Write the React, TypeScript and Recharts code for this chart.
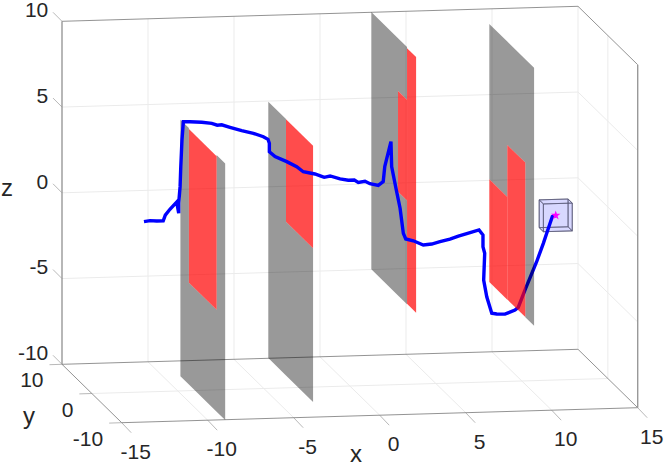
import { ComposedChart, XAxis, YAxis, ZAxis, Line, Area, Scatter } from 'recharts';

type P3 = [number, number, number];

const xTicks = [-15, -10, -5, 0, 5, 10, 15];
const yTicks = [-10, 0, 10];
const zTicks = [-10, -5, 0, 5, 10];

// gate planes
const gateX = [-8.55, -3.44, 2.55, 9.41];

// gray part of each gate: [gate, y stops, z low, z high]
const grayStrips: [number, number[], number[], number[]][] = [
    [0, [7.5, 4.65, 4.65, -4.63, -4.63, -7.5], [-10.46, -10.46, -10.46, -10.46, -10.46, -10.46], [4.5, 4.5, -4.52, -4.52, 4.5, 4.5]],
    [1, [7.5, 1.57, 1.57, -7.5], [-9.55, -9.55, -9.55, -9.55], [5.4, 5.4, -0.59, -0.59]],
    [2, [7.5, -1.44, -1.44, -4.46], [-4.55, -4.55, 7.37, 7.37], [10.45, 10.45, 10.45, 10.45]],
    [2, [-1.44, -4.46], [-4.55, -4.55], [1.5, 1.5]],
    [3, [7.5, 1.47, 1.47, -4.56, -4.56, -7.5], [0.5, 0.5, 3.53, 3.53, -5.49, -5.49], [9.56, 9.56, 9.56, 9.56, 9.56, 9.56]],
];

// red openings
const windowGate = [0, 1, 2, 2, 3, 3];
const windowYHigh = [4.65, 1.57, -1.44, -4.46, 7.5, 1.47];
const windowYLow = [-4.63, -7.5, -4.46, -7.5, 1.47, -4.56];
const windowZLow = [-4.52, -0.59, 1.5, -4.52, -5.49, -5.48];
const windowZHigh = [4.44, 5.38, 7.37, 10.38, 0.5, 3.53];

// flown path (y taken as 0)
const pathX = [
    -11.97, -11.62, -11.23, -10.85, -10.73, -10.46, -10.07, -9.95, -9.95, -9.87, -9.83, -9.76, -9.68, -9.29, -8.61,
    -8.03, -7.71, -7.45, -6.97, -6.29, -5.61, -5.03, -4.76, -4.68, -4.68, -4.35, -3.67, -3.09, -2.71, -2.03, -1.68,
    -1.49, -1.15, -0.57, -0.09, 0.26, 0.49, 0.88, 1.17, 1.65, 1.94, 2.03, 2.39, 2.43, 2.68, 2.92, 3.11, 3.25, 3.69,
    4.27, 4.76, 5.24, 5.82, 6.31, 6.99, 7.51, 7.74, 7.74, 7.84, 7.78, 7.96, 8.25, 8.54, 9.02, 9.6, 9.79, 10.18, 10.86,
    11.25, 11.64, 11.77, 11.97,
];
const pathZ = [
    -0.07, -0.02, -0.05, -0.05, 0.28, 0.61, 1.02, 0.36, 0.96, 1.91, 3.07, 4.63, 5.69, 5.68, 5.63, 5.55, 5.43, 5.45,
    5.29, 5.07, 4.9, 4.68, 4.52, 4.29, 3.8, 3.5, 3.19, 2.88, 2.57, 2.42, 2.29, 2.21, 2.28, 2.09, 2.0, 2.0, 1.86, 1.91,
    1.76, 1.65, 1.86, 2.73, 4.18, 2.72, 1.45, 0.28, -1.19, -1.52, -1.64, -1.9, -1.86, -1.74, -1.6, -1.44, -1.26, -1.12,
    -1.42, -2.11, -2.49, -4.05, -5.03, -6.0, -6.05, -6.07, -5.85, -5.7, -4.7, -3.07, -2.01, -0.85, -0.47, -0.42,
];

// goal box
const goal: P3 = [11.97, 0, -0.4];
const goalHalf: P3 = [0.84, 0.7, 0.81];

const project = (x: number, y: number, z: number) => ({
    u: 349.85 + 17.2 * x - 2.985 * y,
    v: 214.5 - 0.5 * x - 2.92 * y - 17.15 * z,
});
const seg = (a: P3, b: P3) => [project(...a), project(...b)];

const strip = (x: number, ys: number[], lo: number[], hi: number[]) =>
    ys.map((y, i) => ({
        u: project(x, y, 0).u,
        band: [project(x, y, lo[i]).v, project(x, y, hi[i]).v],
    }));

// convex polygon to a u-ordered band
const polyBand = (pts: P3[]) => {
    const p = pts.map((q) => project(...q));
    const us = [...new Set(p.map((q) => q.u))].sort((a, b) => a - b);
    return us.map((u) => {
        const vs: number[] = [];
        p.forEach((a, i) => {
            const b = p[(i + 1) % p.length];
            if (a.u === u) vs.push(a.v);
            if ((a.u < u && b.u > u) || (a.u > u && b.u < u)) {
                vs.push(a.v + ((b.v - a.v) * (u - a.u)) / (b.u - a.u));
            }
        });
        return { u, band: [Math.min(...vs), Math.max(...vs)] };
    });
};

const gridLines = [
    ...xTicks.slice(1).flatMap((x) => [seg([x, 10, -10], [x, 10, 10])]),
    ...xTicks.slice(1, -1).map((x) => seg([x, 10, -10], [x, -10, -10])),
    ...zTicks.slice(1, -1).flatMap((z) => [seg([-15, 10, z], [15, 10, z]), seg([15, 10, z], [15, -10, z])]),
    seg([-15, 0, -10], [15, 0, -10]),
    seg([15, 0, -10], [15, 0, 10]),
];

const boxLines = [
    seg([-15, 10, 10], [15, 10, 10]),
    seg([15, 10, 10], [15, -10, 10]),
    seg([-15, 10, -10], [15, 10, -10]),
    seg([15, 10, -10], [15, -10, -10]),
    seg([-15, 10, -10], [-15, -10, -10]),
    seg([-15, -10, -10], [15, -10, -10]),
];
const boxPosts = [seg([-15, 10, -10], [-15, 10, 10]), seg([15, -10, -10], [15, -10, 10])];

const tickOut = (p: { u: number; v: number }, du: number, dv: number) => [p, { u: p.u + du, v: p.v + dv }];
const tickLines = [
    ...zTicks.map((z) => tickOut(project(-15, 10, z), -9, -9)),
    ...yTicks.map((y) => tickOut(project(-15, y, -10), -12.5, 0.4)),
    ...xTicks.map((x) => tickOut(project(x, -10, -10), 9.5, 10)),
];

const [gx, gy, gz] = goal;
const [hx, hy, hz] = goalHalf;
const c = (sx: number, sy: number, sz: number): P3 => [gx + sx * hx, gy + sy * hy, gz + sz * hz];
const cubeFaces: P3[][] = [
    [c(-1, 1, -1), c(1, 1, -1), c(1, 1, 1), c(-1, 1, 1)],
    [c(-1, -1, -1), c(1, -1, -1), c(1, -1, 1), c(-1, -1, 1)],
    [c(-1, -1, -1), c(-1, 1, -1), c(-1, 1, 1), c(-1, -1, 1)],
    [c(1, -1, -1), c(1, 1, -1), c(1, 1, 1), c(1, -1, 1)],
    [c(-1, -1, -1), c(1, -1, -1), c(1, 1, -1), c(-1, 1, -1)],
    [c(-1, -1, 1), c(1, -1, 1), c(1, 1, 1), c(-1, 1, 1)],
];

const pathData = pathX.map((x, i) => project(x, 0, pathZ[i]));

const textShape = (anchor: string, size: number) => (props: any) => (
    <text
        x={props.cx}
        y={props.cy}
        textAnchor={anchor}
        dominantBaseline="central"
        fontSize={size}
        fontFamily="'Liberation Sans', Arial, sans-serif"
        fill="#262626"
    >
        {props.payload.text}
    </text>
);

const xLabels = xTicks.map((x) => {
    const p = project(x, -10, -10);
    return { u: p.u + 14, v: p.v + 28.5, text: String(x) };
});
const yLabels = yTicks.map((y) => {
    const p = project(-15, y, -10);
    return { u: p.u - 18.5, v: p.v + 15.5, text: String(y) };
});
const zLabels = zTicks.map((z) => {
    const p = project(-15, 10, z);
    return { u: p.u - 13.7, v: p.v - 11.8, text: String(z) };
});
const titles = [
    { u: 356, v: 453, text: 'x' },
    { u: 29, v: 415, text: 'y' },
    { u: 7, v: 187, text: 'z' },
];

const hairline = (key: string, data: any[], stroke: string, width: number, z = 10) => (
    <Line
        key={key}
        data={data}
        dataKey="v"
        stroke={stroke}
        strokeWidth={width}
        dot={false}
        activeDot={false}
        isAnimationActive={false}
        zIndex={z}
    />
);

const gateAreas = (gate: number, z: number) => [
    ...grayStrips
        .filter((s) => s[0] === gate)
        .map((s, i) => (
            <Area
                key={`gray-${gate}-${i}`}
                data={strip(gateX[gate], s[1], s[2], s[3])}
                dataKey="band"
                fill="#000000"
                fillOpacity={0.4}
                stroke="none"
                dot={false}
                activeDot={false}
                isAnimationActive={false}
                zIndex={z}
            />
        )),
    ...windowGate.flatMap((g, i) =>
        g === gate
            ? [
                  <Area
                      key={`red-${i}`}
                      data={strip(
                          gateX[g],
                          [windowYHigh[i], windowYLow[i]],
                          [windowZLow[i], windowZLow[i]],
                          [windowZHigh[i], windowZHigh[i]],
                      )}
                      dataKey="band"
                      fill="#ff0000"
                      fillOpacity={0.7}
                      stroke="none"
                      dot={false}
                      activeDot={false}
                      isAnimationActive={false}
                      zIndex={z}
                  />,
              ]
            : [],
    ),
];

export default function App() {
    return (
        <div style={{ position: 'absolute', left: 0, top: 0, width: 664, height: 463, background: '#fff' }}>
            <ComposedChart width={664} height={463} margin={{ top: 0, right: 0, bottom: 0, left: 0 }}>
                <XAxis dataKey="u" type="number" domain={[0, 664]} hide allowDataOverflow />
                <YAxis type="number" domain={[0, 463]} reversed hide allowDataOverflow />
                <ZAxis range={[28, 28]} />

                {gridLines.map((d, i) => hairline(`grid-${i}`, d, '#ebebeb', 1, 10))}
                {boxLines.map((d, i) => hairline(`box-${i}`, d, '#777777', 0.8, 11))}
                {tickLines.map((d, i) => hairline(`tick-${i}`, d, '#888888', 0.6, 11))}
                {boxPosts.map((d, i) => hairline(`post-${i}`, d, '#999999', 1.4, 11))}

                {gateAreas(0, 20)}
                {gateAreas(1, 20)}
                {gateAreas(2, 20)}

                {cubeFaces.map((f, i) => (
                    <Area
                        key={`face-${i}`}
                        data={polyBand(f)}
                        dataKey="band"
                        fill="#2222ff"
                        fillOpacity={0.09}
                        stroke="none"
                        dot={false}
                        activeDot={false}
                        isAnimationActive={false}
                        zIndex={30}
                    />
                ))}
                {cubeFaces.map((f, i) =>
                    hairline(`edge-${i}`, [...f, f[0]].map((q) => project(...q)), '#5a5a78', 0.7, 31),
                )}

                <Line
                    data={pathData}
                    dataKey="v"
                    stroke="#0000ff"
                    strokeWidth={3.4}
                    dot={false}
                    activeDot={false}
                    isAnimationActive={false}
                    zIndex={40}
                />

                {gateAreas(3, 50)}

                <Scatter
                    data={[project(...goal)]}
                    dataKey="v"
                    shape="star"
                    fill="#ff00ff"
                    isAnimationActive={false}
                    zIndex={60}
                />

                <Scatter data={xLabels} dataKey="v" shape={textShape('middle', 21)} isAnimationActive={false} zIndex={70} />
                <Scatter data={yLabels} dataKey="v" shape={textShape('end', 21)} isAnimationActive={false} zIndex={70} />
                <Scatter data={zLabels} dataKey="v" shape={textShape('end', 21)} isAnimationActive={false} zIndex={70} />
                <Scatter data={titles} dataKey="v" shape={textShape('middle', 24)} isAnimationActive={false} zIndex={70} />
            </ComposedChart>
        </div>
    );
}
